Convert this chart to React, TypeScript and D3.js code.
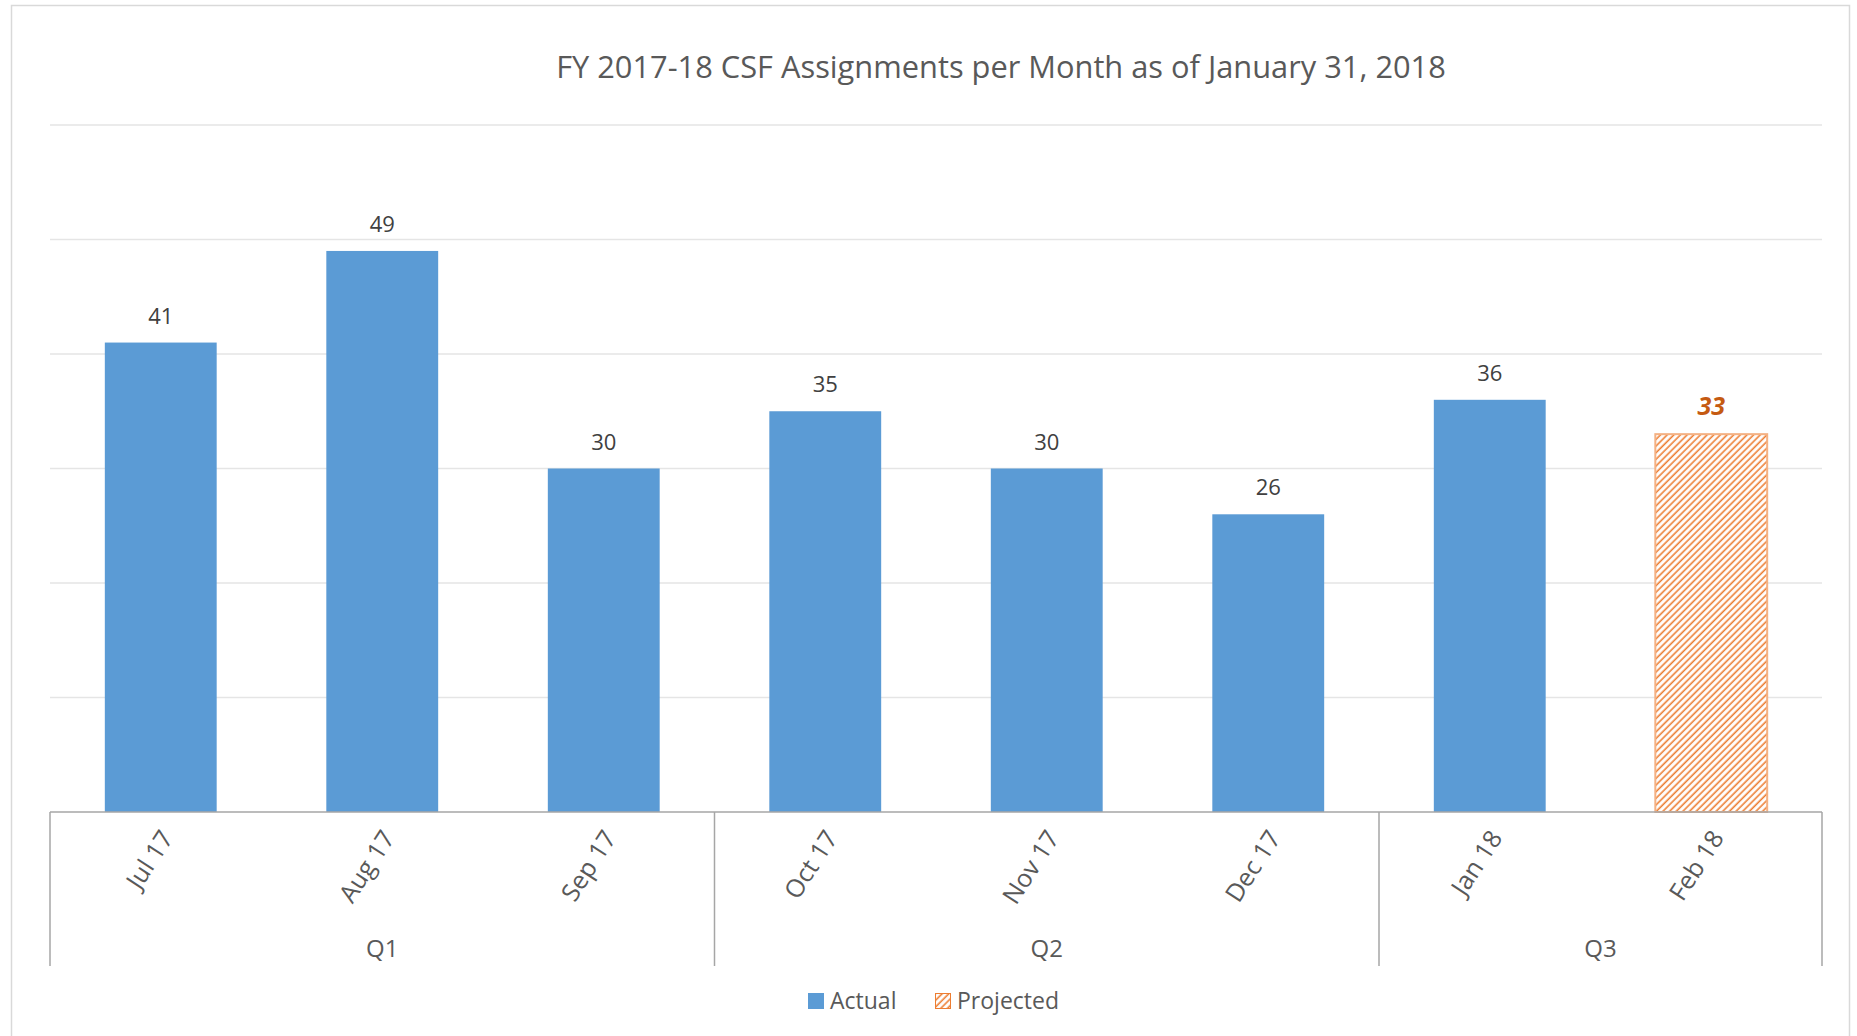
import React from 'react';
import * as d3 from 'd3';

const months = ['Jul 17', 'Aug 17', 'Sep 17', 'Oct 17', 'Nov 17', 'Dec 17', 'Jan 18', 'Feb 18'];
const assignments = [41, 49, 30, 35, 30, 26, 36, 33];
const projected = [false, false, false, false, false, false, false, true];
const quarters = ['Q1', 'Q2', 'Q3'];
const quarterMonths = [3, 3, 2];
const gridTicks = [0, 10, 20, 30, 40, 50, 60];

const W = 1857;
const H = 1036;
const plot = { left: 50, right: 1822, top: 125, bottom: 812 };
const FONT = '"Open Sans", "DejaVu Sans", sans-serif';
const BLUE = '#5B9BD5';
const ORANGE = '#ED7D31';

export default function App() {
  const x = d3.scaleBand<string>()
    .domain(months)
    .range([plot.left, plot.right])
    .paddingInner(0.495)
    .paddingOuter(0.2475);

  const y = d3.scaleLinear().domain([0, 60]).range([plot.bottom, plot.top]);

  // quarter boundaries from the month counts
  const step = x.step();
  let acc = 0;
  const quarterSpans = quarters.map((q, i) => {
    const start = plot.left + acc * step;
    acc += quarterMonths[i];
    return { q, start, end: plot.left + acc * step };
  });

  return (
    <svg width={W} height={H} style={{ position: 'absolute', left: 0, top: 0, background: '#fff' }}>
      <defs>
        <pattern id="hatch" width="4.7" height="4.7" patternUnits="userSpaceOnUse" patternTransform="rotate(45)">
          <rect width="4.7" height="4.7" fill="#fff" />
          <line x1="1.2" y1="0" x2="1.2" y2="4.7" stroke={ORANGE} strokeWidth="1.6" />
        </pattern>
      </defs>

      <rect x={11.5} y={5.5} width={1838} height={1040} fill="#fff" stroke="#d9d9d9" strokeWidth={1.5} />

      <text x={1001} y={78} textAnchor="middle" fontFamily={FONT} fontSize={30.8} fill="#595959">
        FY 2017-18 CSF Assignments per Month as of January 31, 2018
      </text>

      {gridTicks.slice(1).map(t => (
        <line key={t} x1={plot.left} x2={plot.right} y1={y(t)} y2={y(t)} stroke="#e5e5e5" strokeWidth={1.5} />
      ))}

      {months.map((m, i) => {
        const bx = x(m) as number;
        const v = assignments[i];
        const isProj = projected[i];
        return (
          <g key={m}>
            <rect
              x={bx}
              y={y(v)}
              width={x.bandwidth()}
              height={y(0) - y(v)}
              fill={isProj ? 'url(#hatch)' : BLUE}
              stroke={isProj ? '#F4B183' : 'none'}
              strokeWidth={2}
            />
            <text
              x={bx + x.bandwidth() / 2}
              y={y(v) - 19}
              textAnchor="middle"
              fontFamily={FONT}
              fontSize={isProj ? 25 : 22}
              fontWeight={isProj ? 700 : 400}
              fontStyle={isProj ? 'italic' : 'normal'}
              fill={isProj ? '#C55A11' : '#404040'}
            >
              {v}
            </text>
            <text
              transform={`translate(${bx + x.bandwidth() / 2 + 8},${plot.bottom + 22}) rotate(-57)`}
              textAnchor="end"
              dominantBaseline="middle"
              fontFamily={FONT}
              fontSize={25}
              fill="#595959"
            >
              {m}
            </text>
          </g>
        );
      })}

      <line x1={plot.left} x2={plot.right} y1={plot.bottom} y2={plot.bottom} stroke="#a6a6a6" strokeWidth={1.5} />
      {[plot.left, ...quarterSpans.map(s => s.end)].map((px, i) => (
        <line key={i} x1={px} x2={px} y1={plot.bottom} y2={966} stroke="#a6a6a6" strokeWidth={1.5} />
      ))}
      {quarterSpans.map(s => (
        <text key={s.q} x={(s.start + s.end) / 2} y={957} textAnchor="middle" fontFamily={FONT} fontSize={24} fill="#595959">
          {s.q}
        </text>
      ))}

      <g fontFamily={FONT} fontSize={23} fill="#595959">
        <rect x={808} y={993} width={16} height={16} fill={BLUE} />
        <text x={830} y={1009}>Actual</text>
        <rect x={935.5} y={993.5} width={15} height={15} fill="url(#hatch)" stroke={ORANGE} strokeWidth={1} />
        <text x={957} y={1009}>Projected</text>
      </g>
    </svg>
  );
}
